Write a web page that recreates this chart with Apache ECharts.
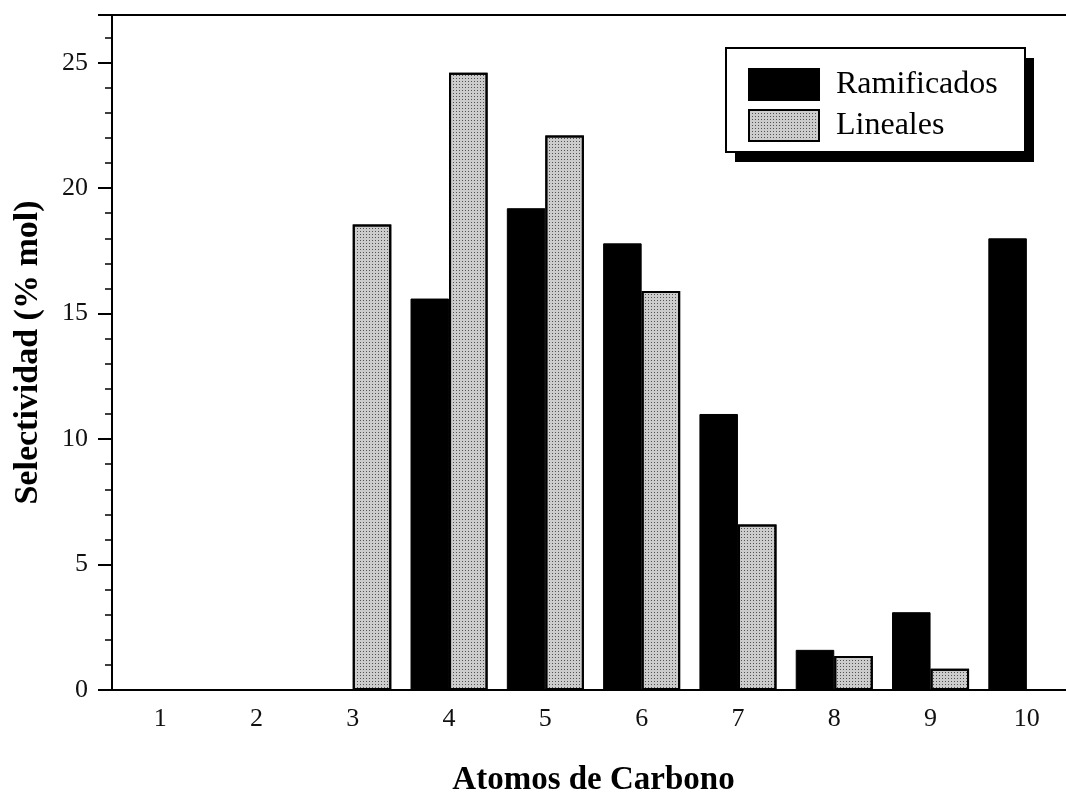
<!DOCTYPE html>
<html>
<head>
<meta charset="utf-8">
<script src="https://cdn.jsdelivr.net/npm/echarts@6/dist/echarts.min.js"></script>
<style>html,body{margin:0;padding:0;background:#fff}#c{width:1066px;height:797px}</style>
</head>
<body>
<div id="c"></div>
<script>
const categories = ['1', '2', '3', '4', '5', '6', '7', '8', '9', '10'];
const ramificados = [0, 0, 0, 15.6, 19.2, 17.8, 11.0, 1.6, 3.1, 18.0];
const lineales = [0, 0, 18.55, 24.6, 22.1, 15.9, 6.6, 1.35, 0.85, 0];
const seriesNames = ['Ramificados', 'Lineales'];
const xTitle = 'Atomos de Carbono';
const yTitle = 'Selectividad (% mol)';

const serif = 'Liberation Serif, Times New Roman, serif';
const chart = echarts.init(document.getElementById('c'), null, {renderer: 'canvas'});
chart.setOption({
  animation: false,
  backgroundColor: '#fff',
  grid: {left: 112, right: -9, top: 15, bottom: 107, outerBoundsMode: 'none', containLabel: false,
         show: true, borderColor: '#000', borderWidth: 2, backgroundColor: 'transparent'},
  graphic: [
    {type: 'rect', shape: {x: 735, y: 58, width: 299, height: 104}, style: {fill: '#000'}, z: 10, silent: true},
    {type: 'rect', shape: {x: 726, y: 48, width: 299, height: 104}, style: {fill: '#fff', stroke: '#000', lineWidth: 2}, z: 11, silent: true}
  ],
  legend: {
    orient: 'vertical', left: 726, top: 48, z: 20,
    padding: [20, 20, 14, 22],
    itemWidth: 70, itemHeight: 31, itemGap: 8,
    icon: 'rect',
    textStyle: {fontFamily: serif, fontSize: 32, color: '#000', padding: [0, 0, 0, 12]},
    data: seriesNames,
    selectedMode: false
  },
  xAxis: {
    type: 'category', data: categories,
    name: xTitle, nameLocation: 'middle', nameGap: 74,
    nameTextStyle: {fontFamily: serif, fontSize: 33, fontWeight: 'bold', color: '#000'},
    axisLine: {lineStyle: {color: '#000', width: 2}},
    axisTick: {alignWithLabel: true, length: 10, lineStyle: {color: '#000', width: 2}},
    axisLabel: {fontFamily: serif, fontSize: 26, color: '#111', margin: 16}
  },
  yAxis: {
    type: 'value', min: 0, max: 26.9, interval: 5,
    name: yTitle, nameLocation: 'middle', nameGap: 67,
    nameTextStyle: {fontFamily: serif, fontSize: 34, fontWeight: 'bold', color: '#000'},
    axisLine: {show: true, lineStyle: {color: '#000', width: 2}},
    axisTick: {show: true, length: 14, lineStyle: {color: '#000', width: 2}},
    minorTick: {show: true, splitNumber: 5, length: 7, lineStyle: {color: '#000', width: 1.5}},
    splitLine: {show: false},
    axisLabel: {fontFamily: serif, fontSize: 26, color: '#111', margin: 24, showMaxLabel: false}
  },
  series: [
    {
      name: seriesNames[0], type: 'bar', data: ramificados,
      barWidth: '40%', barGap: '0%',
      itemStyle: {color: '#000', borderColor: '#000', borderWidth: 1}
    },
    {
      name: seriesNames[1], type: 'bar', data: lineales,
      barWidth: '40%', barGap: '0%',
      itemStyle: {
        color: '#cccccc', borderColor: '#000', borderWidth: 2,
        decal: {symbol: 'rect', symbolSize: 1, dashArrayX: [1, 2], dashArrayY: [1, 2], color: 'rgba(0,0,0,0.6)'}
      }
    }
  ]
});
</script>
</body>
</html>
